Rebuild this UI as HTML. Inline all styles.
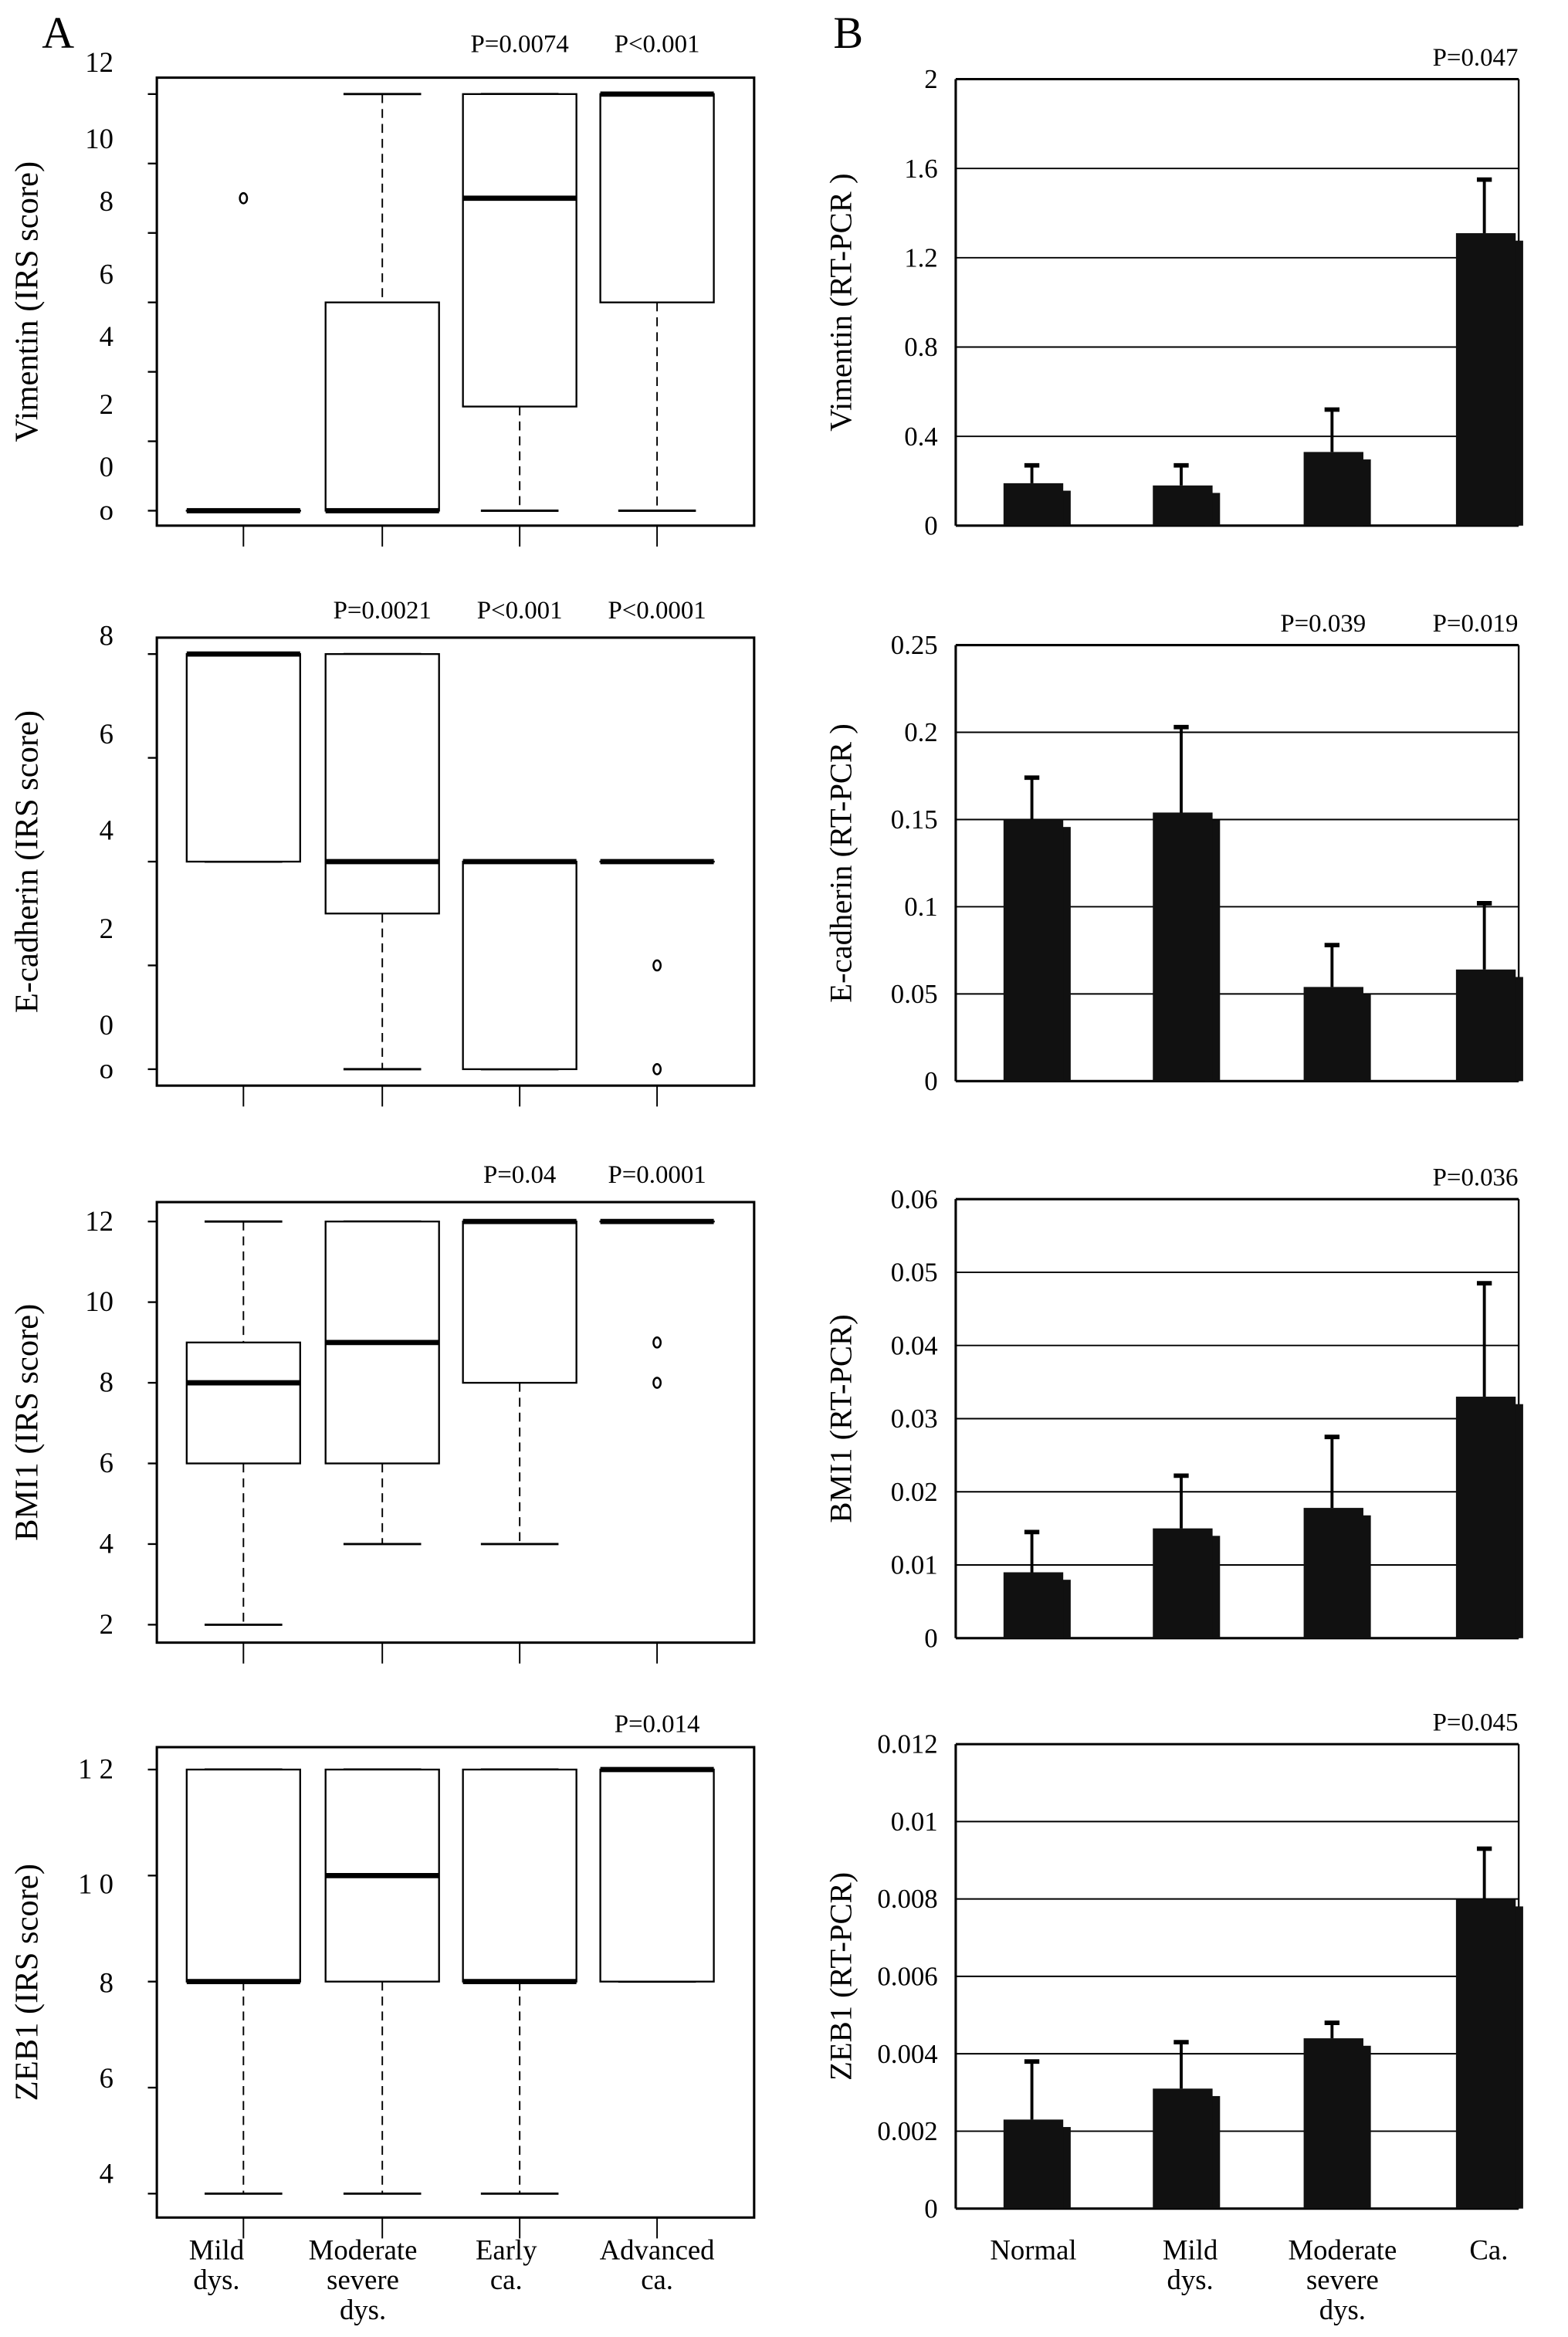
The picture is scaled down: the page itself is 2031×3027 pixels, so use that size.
<!DOCTYPE html>
<html><head><meta charset="utf-8"><style>
html,body{margin:0;padding:0;background:#fff;}
svg{display:block;}
text{font-family:"Liberation Serif",serif;fill:#000;}
</style></head><body>
<svg id="fig" width="2031" height="3027" viewBox="0 0 1050 1565" xmlns="http://www.w3.org/2000/svg"></svg>
<script>
// ---- Panel A (box plots) data ----
const groupsA = ["Mild dys.", "Moderate severe dys.", "Early ca.", "Advanced ca."];
const vimQ1 = [0, 0, 3, 6];
const vimMed = [0, 0, 9, 12];
const vimQ3 = [0, 6, 12, 12];
const vimLo = [0, 0, 0, 0];
const vimHi = [0, 12, 12, 12];
const vimOut = [[9], [], [], []];
const ecadQ1 = [4, 3, 0, 4];
const ecadMed = [8, 4, 4, 4];
const ecadQ3 = [8, 8, 4, 4];
const ecadLo = [4, 0, 0, 4];
const ecadHi = [8, 8, 4, 4];
const ecadOut = [[], [], [], [2, 0]];
const bmiQ1 = [6, 6, 8, 12];
const bmiMed = [8, 9, 12, 12];
const bmiQ3 = [9, 12, 12, 12];
const bmiLo = [2, 4, 4, 12];
const bmiHi = [12, 12, 12, 12];
const bmiOut = [[], [], [], [9, 8]];
const zebQ1 = [8, 8, 8, 8];
const zebMed = [8, 10, 8, 12];
const zebQ3 = [12, 12, 12, 12];
const zebLo = [4, 4, 4, 8];
const zebHi = [12, 12, 12, 12];
const zebOut = [[], [], [], []];
const vimTickLabels = ["12", "10", "8", "6", "4", "2", "0", "o"];
const vimTickLabelVals = [12.9, 10.7, 8.9, 6.8, 5.0, 3.05, 1.25, 0];
const ecadTickLabels = ["8", "6", "4", "2", "0", "o"];
const ecadTickLabelVals = [8.35, 6.45, 4.6, 2.7, 0.84, 0];
const bmiTickLabels = ["12", "10", "8", "6", "4", "2"];
const bmiTickLabelVals = [12, 10, 8, 6, 4, 2];
const zebTickLabels = ["1 2", "1 0", "8", "6", "4"];
const zebTickLabelVals = [12, 9.83, 7.97, 6.17, 4.37];

// ---- Panel B (bar charts) data ----
const groupsB = ["Normal", "Mild dys.", "Moderate severe dys.", "Ca."];
const vimMean = [0.19, 0.18, 0.33, 1.31];
const vimErr = [0.27, 0.27, 0.52, 1.55];
const vimTicks = [0, 0.4, 0.8, 1.2, 1.6, 2];
const vimTickText = ["0", "0.4", "0.8", "1.2", "1.6", "2"];
const ecadMean = [0.15, 0.154, 0.054, 0.064];
const ecadErr = [0.174, 0.203, 0.078, 0.102];
const ecadTicks = [0, 0.05, 0.1, 0.15, 0.2, 0.25];
const ecadTickText = ["0", "0.05", "0.1", "0.15", "0.2", "0.25"];
const bmiMean = [0.009, 0.015, 0.0178, 0.033];
const bmiErr = [0.0145, 0.0222, 0.0275, 0.0485];
const bmiTicks = [0, 0.01, 0.02, 0.03, 0.04, 0.05, 0.06];
const bmiTickText = ["0", "0.01", "0.02", "0.03", "0.04", "0.05", "0.06"];
const zebMean = [0.0023, 0.0031, 0.0044, 0.008];
const zebErr = [0.0038, 0.0043, 0.0048, 0.0093];
const zebTicks = [0, 0.002, 0.004, 0.006, 0.008, 0.01, 0.012];
const zebTickText = ["0", "0.002", "0.004", "0.006", "0.008", "0.01", "0.012"];

const NS = "http://www.w3.org/2000/svg";
const svg = document.getElementById("fig");
function mk(tag, attrs, parent) {
  const e = document.createElementNS(NS, tag);
  for (const k in attrs) e.setAttribute(k, attrs[k]);
  (parent || svg).appendChild(e);
  return e;
}
function lin(d0, d1, r0, r1) { return v => r0 + (v - d0) * (r1 - r0) / (d1 - d0); }

let el;
el = mk("text", {x: 28, y: 32, "font-size": 30}); el.textContent = "A";


el = mk("text", {x: 558, y: 32, "font-size": 30}); el.textContent = "B";



const boxCx = [163, 256, 348, 440];
function boxPanel(name, top, bot, ys, q1, med, q3, lo, hi, outs, ticks, tLabels, tVals, title, pvals) {
  const g = mk("g", {});
  
  
  const frame = mk("rect", {x: 105, y: top, width: 400, height: bot - top, fill: "none", stroke: "#000", "stroke-width": 1.6}, g);
  
  
  ticks.forEach(t => {
    const tk = mk("line", {x1: 99, x2: 105, y1: ys(t), y2: ys(t), stroke: "#000", "stroke-width": 1.2}, g);
    
    
  });
  tLabels.forEach((lab, i) => {
    const tl = mk("text", {x: 76, y: ys(tVals[i]) + 6, "font-size": 19, "text-anchor": "end"}, g);
    tl.textContent = lab;
    
    
  });
  const my = (top + bot) / 2;
  const tt = mk("text", {x: 25, y: my, "font-size": 22, "text-anchor": "middle", transform: "rotate(-90 25 " + my + ")"}, g);
  tt.textContent = title;
  
  
  boxCx.forEach((cx, i) => {
    const xt = mk("line", {x1: cx, x2: cx, y1: bot, y2: bot + 14, stroke: "#000", "stroke-width": 1}, g);
    
    
    const dash = {stroke: "#000", "stroke-width": 1, "stroke-dasharray": "6,4"};
    if (hi[i] > q3[i]) {
      const w = mk("line", Object.assign({x1: cx, x2: cx, y1: ys(hi[i]), y2: ys(q3[i])}, dash), g);
      
      
    }
    if (lo[i] < q1[i]) {
      const w = mk("line", Object.assign({x1: cx, x2: cx, y1: ys(q1[i]), y2: ys(lo[i])}, dash), g);
      
      
    }
    const c1 = mk("line", {x1: cx - 26, x2: cx + 26, y1: ys(hi[i]), y2: ys(hi[i]), stroke: "#000", "stroke-width": 1.5}, g);
    
    
    const c2 = mk("line", {x1: cx - 26, x2: cx + 26, y1: ys(lo[i]), y2: ys(lo[i]), stroke: "#000", "stroke-width": 1.5}, g);
    
    
    const b = mk("rect", {x: cx - 38, y: ys(q3[i]), width: 76, height: Math.max(0.01, ys(q1[i]) - ys(q3[i])), fill: "#fff", stroke: "#000", "stroke-width": 1.2}, g);
    
    
    const m = mk("line", {x1: cx - 38, x2: cx + 38, y1: ys(med[i]), y2: ys(med[i]), stroke: "#000", "stroke-width": 3.5}, g);
    
    
    outs[i].forEach(o => {
      const c = mk("ellipse", {cx: cx, cy: ys(o), rx: 2.4, ry: 3.4, fill: "none", stroke: "#000", "stroke-width": 1.3}, g);
      
      
    });
  });
  pvals.forEach(p => {
    const t = mk("text", {x: boxCx[p[0]], y: p[2], "font-size": 17, "text-anchor": "middle"}, g);
    t.textContent = p[1];
    
    
  });
}
boxPanel("vimentin-irs", 52, 352, lin(0, 12, 342, 63), vimQ1, vimMed, vimQ3, vimLo, vimHi, vimOut,
  [0, 2, 4, 6, 8, 10, 12], vimTickLabels, vimTickLabelVals, "Vimentin (IRS score)", [[2, "P=0.0074", 35], [3, "P<0.001", 35]]);
boxPanel("ecadherin-irs", 427, 727, lin(0, 8, 716, 438), ecadQ1, ecadMed, ecadQ3, ecadLo, ecadHi, ecadOut,
  [0, 2, 4, 6, 8], ecadTickLabels, ecadTickLabelVals, "E-cadherin (IRS score)", [[1, "P=0.0021", 414], [2, "P<0.001", 414], [3, "P<0.0001", 414]]);
boxPanel("bmi1-irs", 805, 1100, lin(2, 12, 1088, 818), bmiQ1, bmiMed, bmiQ3, bmiLo, bmiHi, bmiOut,
  [2, 4, 6, 8, 10, 12], bmiTickLabels, bmiTickLabelVals, "BMI1 (IRS score)", [[2, "P=0.04", 792], [3, "P=0.0001", 792]]);
boxPanel("zeb1-irs", 1170, 1485, lin(4, 12, 1469, 1185), zebQ1, zebMed, zebQ3, zebLo, zebHi, zebOut,
  [4, 6, 8, 10, 12], zebTickLabels, zebTickLabelVals, "ZEB1 (IRS score)", [[3, "P=0.014", 1160]]);

const aLabelX = [145, 243, 339, 440];
groupsA.forEach((gname, i) => {
  const lines = gname.split(" ");
  lines.forEach((ln, j) => {
    const t = mk("text", {x: aLabelX[i], y: 1513 + j * 20, "font-size": 19, "text-anchor": "middle"});
    t.textContent = ln;
    
    
  });
});

const barCx = [692, 792, 893, 995];
function barPanel(name, top, bot, ticks, tickText, mean, err, title, pvals) {
  const g = mk("g", {});
  
  
  const ys = lin(ticks[0], ticks[ticks.length - 1], bot, top);
  ticks.forEach((t, i) => {
    const gl = mk("line", {x1: 640, x2: 1017, y1: ys(t), y2: ys(t), stroke: "#000", "stroke-width": i === 0 || i === ticks.length - 1 ? 1.6 : 1}, g);
    
    
    const tl = mk("text", {x: 628, y: ys(t) + 6, "font-size": 18, "text-anchor": "end"}, g);
    tl.textContent = tickText[i];
    
    
  });
  const ax = mk("line", {x1: 640, x2: 640, y1: top, y2: bot, stroke: "#000", "stroke-width": 1.6}, g);
  
  
  const rx = mk("line", {x1: 1017, x2: 1017, y1: top, y2: bot, stroke: "#000", "stroke-width": 1.2}, g);
  
  
  const my = (top + bot) / 2;
  const tt = mk("text", {x: 570, y: my, "font-size": 21, "text-anchor": "middle", transform: "rotate(-90 570 " + my + ")"}, g);
  tt.textContent = title;
  
  
  barCx.forEach((cx, i) => {
    const e = mk("line", {x1: cx - 1, x2: cx - 1, y1: ys(err[i]), y2: ys(mean[i]), stroke: "#000", "stroke-width": 2}, g);
    
    
    const cap = mk("line", {x1: cx - 6, x2: cx + 4, y1: ys(err[i]), y2: ys(err[i]), stroke: "#000", "stroke-width": 3}, g);
    
    
    const sh = mk("rect", {x: cx + 15, y: ys(mean[i]) + 5, width: 10, height: Math.max(0, bot - ys(mean[i]) - 5), fill: "#111"}, g);
    
    
    const b = mk("rect", {x: cx - 20, y: ys(mean[i]), width: 40, height: bot - ys(mean[i]), fill: "#111"}, g);
    
    
  });
  pvals.forEach(p => {
    const t = mk("text", {x: barCx[p[0]] - 7, y: top - 9, "font-size": 17, "text-anchor": "middle"}, g);
    t.textContent = p[1];
    
    
  });
}
barPanel("vimentin-pcr", 53, 352, vimTicks, vimTickText, vimMean, vimErr, "Vimentin (RT-PCR )", [[3, "P=0.047"]]);
barPanel("ecadherin-pcr", 432, 724, ecadTicks, ecadTickText, ecadMean, ecadErr, "E-cadherin (RT-PCR )", [[2, "P=0.039"], [3, "P=0.019"]]);
barPanel("bmi1-pcr", 803, 1097, bmiTicks, bmiTickText, bmiMean, bmiErr, "BMI1 (RT-PCR)", [[3, "P=0.036"]]);
barPanel("zeb1-pcr", 1168, 1479, zebTicks, zebTickText, zebMean, zebErr, "ZEB1 (RT-PCR)", [[3, "P=0.045"]]);

const bLabelX = [692, 797, 899, 997];
groupsB.forEach((gname, i) => {
  const lines = gname.split(" ");
  lines.forEach((ln, j) => {
    const t = mk("text", {x: bLabelX[i], y: 1513 + j * 20, "font-size": 19, "text-anchor": "middle"});
    t.textContent = ln;
    
    
  });
});
</script>
</body></html>
